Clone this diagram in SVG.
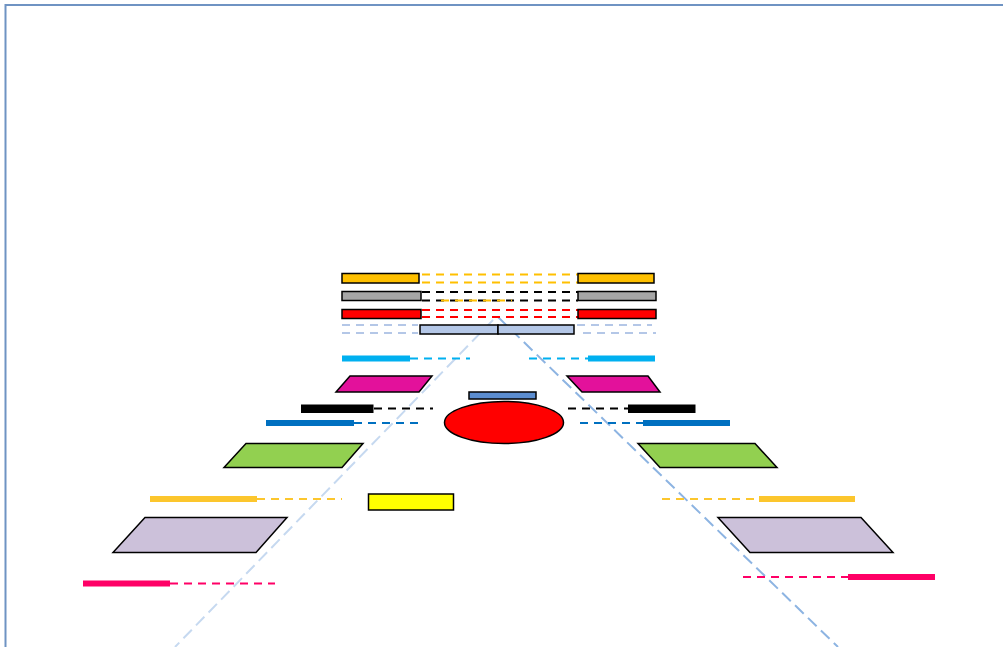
<svg xmlns="http://www.w3.org/2000/svg" width="1003" height="647" viewBox="0 0 1003 647">
<style>
.sh{stroke:#000;stroke-width:1.5}
.d{fill:none;stroke-width:2;stroke-dasharray:8 6}
.dt{fill:none;stroke-width:1.8;stroke-dasharray:8 6}
.bar{fill:none;stroke-width:6}
</style>
<rect x="0" y="0" width="1003" height="647" fill="#fff"/>
<rect id="frame" x="5.5" y="5" width="1010" height="660" fill="none" stroke="#6f93c3" stroke-width="2"/>
<g id="connectors">
  <line x1="493" y1="320" x2="175" y2="647" stroke="#c6d9f0" stroke-width="2" stroke-dasharray="12 6" fill="none"/>
  <line x1="498" y1="317" x2="838" y2="647" stroke="#8db4e2" stroke-width="2" stroke-dasharray="12 6" fill="none"/>
  <line class="dt" x1="422" y1="274.5" x2="578" y2="274.5" stroke="#ffc000"/>
  <line class="dt" x1="422" y1="282.5" x2="578" y2="282.5" stroke="#ffc000"/>
  <line class="dt" x1="422" y1="292" x2="578" y2="292" stroke="#000"/>
  <line class="dt" x1="422" y1="300.5" x2="578" y2="300.5" stroke="#000"/>
  <line class="dt" x1="441" y1="300.5" x2="512" y2="300.5" stroke="#ffc000" stroke-dasharray="4 10"/>
  <line class="dt" x1="422" y1="310" x2="578" y2="310" stroke="#ff0000"/>
  <line class="dt" x1="422" y1="317" x2="578" y2="317" stroke="#ff0000"/>
  <line class="dt" x1="342" y1="325" x2="418" y2="325" stroke="#b4c7e7"/>
  <line class="dt" x1="342" y1="333" x2="418" y2="333" stroke="#b4c7e7"/>
  <line class="dt" x1="577" y1="325" x2="652" y2="325" stroke="#b4c7e7"/>
  <line class="dt" x1="583" y1="333" x2="656" y2="333" stroke="#b4c7e7"/>
  <line class="d" x1="410" y1="358.5" x2="470" y2="358.5" stroke="#00b0f0"/>
  <line class="d" x1="529" y1="358.5" x2="588" y2="358.5" stroke="#00b0f0"/>
  <line class="d" x1="374" y1="408.5" x2="433" y2="408.5" stroke="#000"/>
  <line class="d" x1="568" y1="408.5" x2="628" y2="408.5" stroke="#000"/>
  <line class="d" x1="354" y1="423" x2="423" y2="423" stroke="#0070c0"/>
  <line class="d" x1="580" y1="423" x2="643" y2="423" stroke="#0070c0"/>
  <line class="d" x1="257" y1="499" x2="342" y2="499" stroke="#fcc62d"/>
  <line class="d" x1="662" y1="499" x2="759" y2="499" stroke="#fcc62d"/>
  <line class="d" x1="170" y1="583.5" x2="275" y2="583.5" stroke="#ff0066"/>
  <line class="d" x1="743" y1="577" x2="848" y2="577" stroke="#ff0066"/>
</g>
<g id="orange-left"><rect class="sh" x="342" y="273.5" width="77" height="9.5" fill="#ffc000"/></g>
<g id="orange-right"><rect class="sh" x="578" y="273.5" width="76" height="9.5" fill="#ffc000"/></g>
<g id="gray-left"><rect class="sh" x="342" y="291.5" width="79" height="9" fill="#a6a6a6" stroke-width="2"/></g>
<g id="gray-right"><rect class="sh" x="578" y="291.5" width="78" height="9" fill="#a6a6a6"/></g>
<g id="red-left"><rect class="sh" x="342" y="309.5" width="79" height="9" fill="#ff0000"/></g>
<g id="red-right"><rect class="sh" x="578" y="309.5" width="78" height="9" fill="#ff0000"/></g>
<g id="lightblue-bar">
  <rect class="sh" x="420" y="325" width="78" height="9" fill="#b4c7e7"/>
  <rect class="sh" x="498" y="325" width="76" height="9" fill="#b4c7e7"/>
</g>
<g id="cyan-left"><line class="bar" x1="342" y1="358.5" x2="410" y2="358.5" stroke="#00b0f0"/></g>
<g id="cyan-right"><line class="bar" x1="588" y1="358.5" x2="655" y2="358.5" stroke="#00b0f0"/></g>
<g id="magenta-left"><polygon class="sh" points="350,376 432,376 419,392 336,392" fill="#e3119b"/></g>
<g id="magenta-right"><polygon class="sh" points="567,376 648,376 660,392 582,392" fill="#e3119b"/></g>
<g id="blue-small"><rect class="sh" x="469" y="392" width="67" height="7" fill="#5b8dd0"/></g>
<g id="black-left"><rect x="301" y="404.5" width="72.5" height="8.5" fill="#000"/></g>
<g id="black-right"><rect x="628" y="404.5" width="67.5" height="8.5" fill="#000"/></g>
<g id="red-ellipse"><ellipse class="sh" cx="504" cy="422.5" rx="59.5" ry="21" fill="#ff0000"/></g>
<g id="blue-left"><line class="bar" x1="266" y1="423" x2="354" y2="423" stroke="#0070c0"/></g>
<g id="blue-right"><line class="bar" x1="643" y1="423" x2="730" y2="423" stroke="#0070c0"/></g>
<g id="green-left"><polygon class="sh" points="246,443.5 363,443.5 342,467.5 224,467.5" fill="#92d050"/></g>
<g id="green-right"><polygon class="sh" points="638,443.5 755,443.5 777,467.5 660,467.5" fill="#92d050"/></g>
<g id="gold-left"><line class="bar" x1="150" y1="499" x2="257" y2="499" stroke="#fcc62d" stroke-width="5"/></g>
<g id="gold-right"><line class="bar" x1="759" y1="499" x2="855" y2="499" stroke="#fcc62d" stroke-width="5"/></g>
<g id="yellow-rect"><rect class="sh" x="368.5" y="494" width="85" height="16" fill="#ffff00"/></g>
<g id="lavender-left"><polygon class="sh" points="145,517.5 287,517.5 256,552.5 113,552.5" fill="#ccc1da"/></g>
<g id="lavender-right"><polygon class="sh" points="718,517.5 861,517.5 893,552.5 750,552.5" fill="#ccc1da"/></g>
<g id="pink-left"><line class="bar" x1="83" y1="583.5" x2="170" y2="583.5" stroke="#ff0066"/></g>
<g id="pink-right"><line class="bar" x1="848" y1="577" x2="935" y2="577" stroke="#ff0066"/></g>
</svg>
